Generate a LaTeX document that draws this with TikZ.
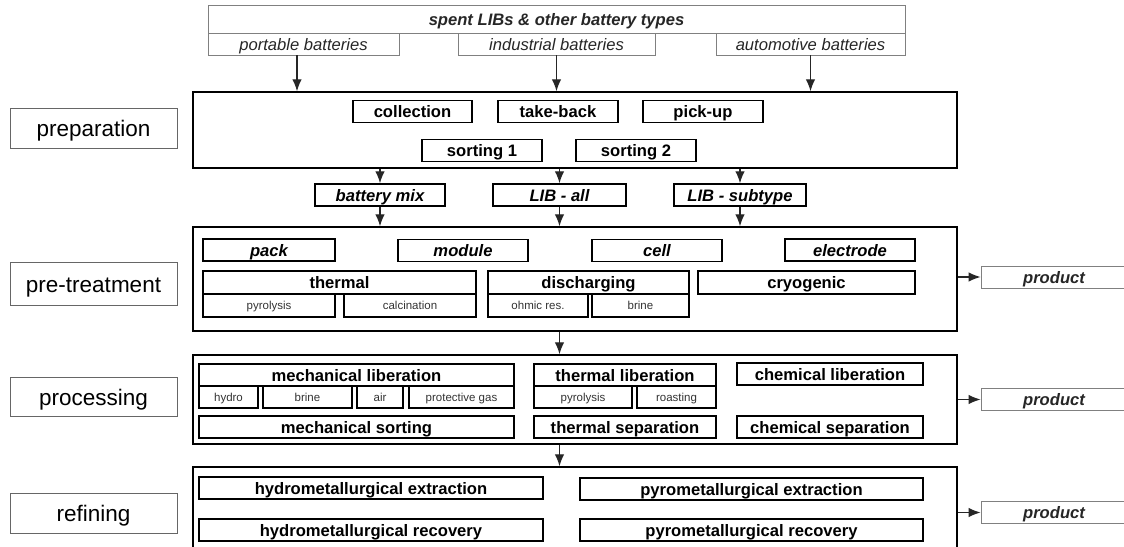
\documentclass[tikz,border=0pt]{standalone}
\usepackage{fontspec}
\setmainfont{Liberation Sans}
\usepackage{xcolor}
\usetikzlibrary{arrows.meta}

\newcommand{\boxfont}{\fontsize{16.6}{19}\selectfont}
\newcommand{\subfont}{\fontsize{11.5}{13}\selectfont}
\newcommand{\phasefont}{\fontsize{22.5}{25}\selectfont}

\tikzset{
  stage/.style={draw, line width=1.4pt, inner sep=0pt},
  opbox/.style={draw, line width=1.5pt, inner sep=0pt, minimum height=22pt, text height=13.5pt, text depth=1.5pt, font=\boxfont\bfseries},
  opit/.style={opbox, font=\boxfont\bfseries\itshape},
  subbox/.style={draw, line width=1.5pt, inner sep=0pt, minimum height=22pt, text height=9.5pt, text depth=1pt, font=\subfont, text=black!80},
  srcbox/.style={draw=gray, line width=0.8pt, inner sep=0pt, minimum height=22pt, text height=13.5pt, text depth=1.5pt, font=\boxfont\itshape, text=black!85},
  prod/.style={srcbox, minimum width=146pt, font=\boxfont\bfseries\itshape},
  phase/.style={draw=gray!80!black, line width=0.8pt, inner sep=0pt, minimum width=167pt, text height=17pt, text depth=1pt, font=\phasefont},
  flow/.style={-{Latex[length=12pt,width=9.5pt]}, line width=1.3pt, black!85}
}

\begin{document}
\begin{tikzpicture}[x=1pt, y=-1pt]
\useasboundingbox (0,0) rectangle (1124,546);
\clip (0,0) rectangle (1124,546);

% sources
\node (spent) at (556.5,19) [srcbox, minimum width=697pt, minimum height=28pt, font=\boxfont\bfseries\itshape] {spent LIBs \& other battery types};
\node (port) at (303.5,44) [srcbox, minimum width=191pt] {portable batteries};
\node (ind) at (556.5,44) [srcbox, minimum width=197pt] {industrial batteries};
\node (auto) at (810.5,44) [srcbox, minimum width=189pt] {automotive batteries};

% phase labels
\node (prepL) at (93.5,128) [phase, minimum height=40pt] {preparation};
\node (preL) at (93.5,284) [phase, minimum height=43pt] {pre-treatment};
\node (procL) at (93.5,397) [phase, minimum height=39pt] {processing};
\node (refL) at (93.5,513) [phase, minimum height=40pt] {refining};

% preparation
\node (prep) at (575,130) [stage, minimum width=764pt, minimum height=76pt] {};
\node (coll) at (412.5,111.5) [opbox, minimum width=119pt] {collection};
\node (take) at (558,111.5) [opbox, minimum width=120pt] {take-back};
\node (pick) at (703,111.5) [opbox, minimum width=120pt] {pick-up};
\node (sortA) at (482,150.5) [opbox, minimum width=120pt] {sorting 1};
\node (sortB) at (636,150.5) [opbox, minimum width=120pt] {sorting 2};

\node (mix) at (380,195) [opit, minimum width=130pt] {battery mix};
\node (all) at (559.5,195) [opit, minimum width=133pt] {LIB - all};
\node (sub) at (740,195) [opit, minimum width=132pt] {LIB - subtype};

% pre-treatment
\node (pre) at (575,279) [stage, minimum width=764pt, minimum height=104pt] {};
\node (pack) at (269,250) [opit, minimum width=132pt] {pack};
\node (module) at (463,250.5) [opit, minimum width=130pt] {module};
\node (cell) at (657,250.5) [opit, minimum width=130pt] {cell};
\node (electrode) at (850,250) [opit, minimum width=130pt] {electrode};
\node (thermal) at (339.5,282.5) [opbox, minimum width=273pt, minimum height=23pt] {thermal};
\node (pyroA) at (269,305.5) [subbox, minimum width=132pt, minimum height=23pt] {pyrolysis};
\node (calc) at (410,305.5) [subbox, minimum width=132pt, minimum height=23pt] {calcination};
\node (disch) at (588.5,282.5) [opbox, minimum width=201pt, minimum height=23pt] {discharging};
\node (ohmic) at (538,305.5) [subbox, minimum width=100pt, minimum height=23pt] {ohmic res.};
\node (brineA) at (640.5,305.5) [subbox, minimum width=97pt, minimum height=23pt] {brine};
\node (cryo) at (806.5,282.5) [opbox, minimum width=217pt, minimum height=23pt] {cryogenic};

% processing
\node (proc) at (575,399.5) [stage, minimum width=764pt, minimum height=89pt] {};
\node (mechlib) at (356.5,375) [opbox, minimum width=315pt] {mechanical liberation};
\node (hydro) at (228.5,397) [subbox, minimum width=59pt] {hydro};
\node (brineB) at (307.5,397) [subbox, minimum width=89pt] {brine};
\node (air) at (380,397) [subbox, minimum width=46pt] {air};
\node (pgas) at (461.5,397) [subbox, minimum width=105pt] {protective gas};
\node (thlib) at (625,375) [opbox, minimum width=182pt] {thermal liberation};
\node (pyroB) at (583,397) [subbox, minimum width=98pt] {pyrolysis};
\node (roast) at (676.5,397) [subbox, minimum width=79pt] {roasting};
\node (chlib) at (830,374) [opbox, minimum width=186pt] {chemical liberation};
\node (mechsort) at (356.5,427) [opbox, minimum width=315pt] {mechanical sorting};
\node (thsep) at (625,427) [opbox, minimum width=182pt] {thermal separation};
\node (chsep) at (830,427) [opbox, minimum width=186pt] {chemical separation};

% refining
\node (ref) at (575,512.5) [stage, minimum width=764pt, minimum height=91pt] {};
\node (hyex) at (371,488) [opbox, minimum width=344pt] {hydrometallurgical extraction};
\node (pyex) at (751.5,489) [opbox, minimum width=343pt] {pyrometallurgical extraction};
\node (hyrec) at (371,530) [opbox, minimum width=344pt] {hydrometallurgical recovery};
\node (pyrec) at (751.5,530) [opbox, minimum width=343pt] {pyrometallurgical recovery};

% products
\node (prodA) at (1054,277) [prod] {product};
\node (prodB) at (1054,399.5) [prod] {product};
\node (prodC) at (1054,512.5) [prod] {product};

% flow
\draw[flow] ([xshift=-6.5pt]port.south) -- ([xshift=-6.5pt]port.south |- prep.north);
\draw[flow] (ind) -- (ind |- prep.north);
\draw[flow] (auto) -- (auto |- prep.north);
\draw[flow] (mix |- prep.south) -- (mix);
\draw[flow] (all |- prep.south) -- (all);
\draw[flow] (sub |- prep.south) -- (sub);
\draw[flow] (mix) -- (mix |- pre.north);
\draw[flow] (all) -- (all |- pre.north);
\draw[flow] (sub) -- (sub |- pre.north);
\draw[flow] (all |- pre.south) -- (all |- proc.north);
\draw[flow] (all |- proc.south) -- (all |- ref.north);
\draw[flow] (pre.east |- prodA) -- (prodA);
\draw[flow] (proc) -- (prodB);
\draw[flow] (ref) -- (prodC);
\end{tikzpicture}
\end{document}
